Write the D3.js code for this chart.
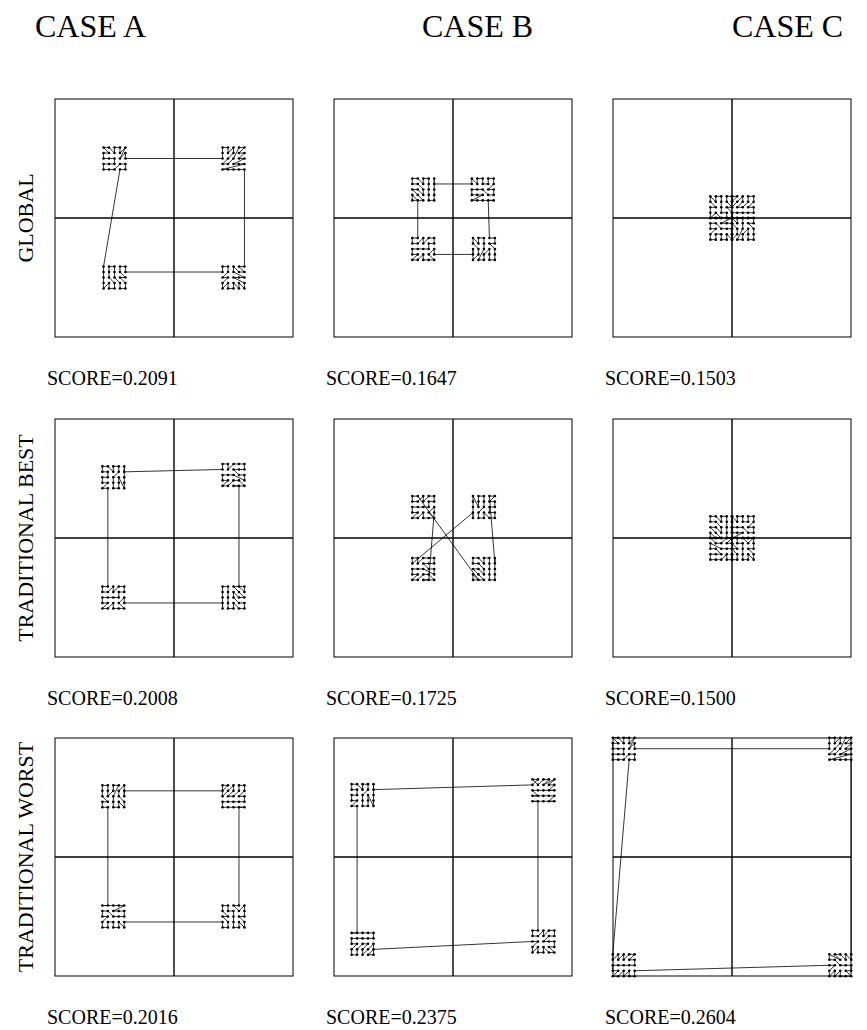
<!DOCTYPE html>
<html>
<head>
<meta charset="utf-8">
<script src="https://cdn.jsdelivr.net/npm/d3@7"></script>
<style>
  body { margin: 0; background: #fff; }
  text { font-family: "Liberation Serif", "Times New Roman", serif; fill: #000; }
</style>
</head>
<body>
<svg id="chart" width="867" height="1030"></svg>
<script>
const cases = ["CASE A", "CASE B", "CASE C"];
const methods = ["GLOBAL", "TRADITIONAL BEST", "TRADITIONAL WORST"];
const scores = [
  [0.2091, 0.1647, 0.1503],
  [0.2008, 0.1725, 0.1500],
  [0.2016, 0.2375, 0.2604]
];

// cluster centres in tour order: [x, y, pattern, quarter turns]
const globalA = [[-0.5, 0.5, 4, 0], [0.5, 0.5, 5, 0], [0.5, -0.5, 10, 0], [-0.5, -0.5, 11, 0]];
const globalB = [[-0.25, 0.24, 3, 0], [0.25, 0.24, 2, 1], [0.26, -0.26, 0, 2], [-0.25, -0.26, 1, 3]];
const globalC = [[-0.09, 0.09, 1, 0], [0.09, 0.09, 3, 1], [0.09, -0.09, 0, 2], [-0.09, -0.09, 2, 3]];
const bestA = [[-0.51, 0.51, 2, 0], [0.5, 0.53, 0, 1], [0.5, -0.5, 3, 2], [-0.51, -0.5, 1, 3]];
const bestB = [[-0.25, 0.26, 1, 3], [0.26, -0.26, 3, 0], [0.26, 0.26, 2, 2], [-0.25, -0.26, 0, 1]];
const bestC = [[-0.09, 0.09, 3, 0], [0.09, 0.09, 2, 1], [0.09, -0.09, 1, 2], [-0.09, -0.09, 0, 3]];
const worstA = [[-0.51, 0.51, 0, 0], [0.5, 0.51, 3, 1], [0.5, -0.5, 1, 2], [-0.51, -0.5, 2, 3]];
const worstB = [[-0.76, 0.52, 2, 0], [0.76, 0.56, 8, 0], [0.76, -0.71, 9, 0], [-0.76, -0.73, 3, 3]];
const worstC = [[-0.91, 0.91, 4, 0], [0.91, 0.91, 5, 0], [0.91, -0.91, 6, 0], [-0.91, -0.91, 7, 0]];

const tours = [
  [globalA, globalB, globalC],
  [bestA, bestB, bestC],
  [worstA, worstB, worstC]
];

// visiting order inside a 5x5 cluster, cells "col row" (row 0 at top)
const patterns = [
  "14 04 03 13 02 01 00 10 11 12 21 20 30 22 23 24 34 33 44 43 32 31 40 42 41",
  "14 24 13 04 03 02 12 01 00 11 10 20 21 22 23 33 34 44 43 32 42 31 30 40 41",
  "14 04 13 03 02 12 11 01 00 10 21 20 30 31 22 23 24 34 33 32 44 43 42 40 41",
  "14 03 04 24 13 02 12 23 22 11 01 00 10 21 20 30 31 32 33 34 44 43 42 40 41",
  "34 44 43 33 24 14 04 03 13 23 22 12 02 01 11 00 10 21 20 30 31 40 32 41 42",
  "02 01 00 10 11 20 21 12 03 13 22 30 40 31 41 32 42 23 33 43 04 14 24 34 44",
  "40 41 30 31 20 10 21 00 01 11 22 32 42 43 33 44 34 24 23 14 13 04 03 12 02",
  "43 44 34 33 24 23 14 04 13 03 02 12 22 32 42 41 31 40 30 21 20 11 10 01 00",
  "01 10 00 11 20 30 21 40 31 41 32 42 22 12 02 13 03 23 33 43 34 44 24 04 14",
  "10 00 01 11 20 21 30 40 41 31 22 32 42 43 33 44 34 23 24 14 13 04 03 12 02",
  "40 30 41 31 20 21 42 32 22 43 44 33 34 23 24 14 13 04 03 12 02 11 10 00 01",
  "41 40 30 31 42 32 43 44 34 33 22 21 20 10 11 12 23 24 14 13 04 03 02 01 00"
];
const gridStep = 0.046;

const panelSize = 238;
const panelX = [55, 334, 613];
const panelY = [99, 419, 738];
const titleX = [35, 422, 732];

const svg = d3.select("#chart");

const x = d3.scaleLinear().domain([-1, 1]).range([0, panelSize]);
const y = d3.scaleLinear().domain([-1, 1]).range([panelSize, 0]);

function turn(c, k) {
  var i = c[0], j = c[1];
  for (var n = 0; n < k; n++) {
    var t = i;
    i = 4 - j;
    j = t;
  }
  return [i, j];
}

function tourPoints(tour) {
  var pts = [];
  tour.forEach(function(cl) {
    patterns[cl[2]].split(" ").forEach(function(s) {
      var c = turn([+s[0], +s[1]], cl[3]);
      pts.push([cl[0] + (c[0] - 2) * gridStep, cl[1] - (c[1] - 2) * gridStep]);
    });
  });
  return pts;
}

// column titles
svg.selectAll(".caseTitle")
  .data(cases)
  .enter()
  .append("text")
  .attr("class", "caseTitle")
  .attr("x", function(d, i) { return titleX[i]; })
  .attr("y", 37)
  .style("font-size", "32px")
  .text(function(d) { return d; });

// row labels
svg.selectAll(".rowLabel")
  .data(methods)
  .enter()
  .append("text")
  .attr("class", "rowLabel")
  .attr("text-anchor", "middle")
  .attr("transform", function(d, i) {
    return "translate(33," + (panelY[i] + panelSize / 2) + ") rotate(-90)";
  })
  .style("font-size", "22px")
  .text(function(d) { return d; });

var line = d3.line()
  .x(function(d) { return x(d[0]); })
  .y(function(d) { return y(d[1]); })
  .curve(d3.curveLinearClosed);

for (var r = 0; r < 3; r++) {
  for (var c = 0; c < 3; c++) {
    var g = svg.append("g")
      .attr("transform", "translate(" + panelX[c] + "," + panelY[r] + ")");

    g.append("rect")
      .attr("width", panelSize)
      .attr("height", panelSize)
      .attr("fill", "none")
      .attr("stroke", "#000")
      .attr("stroke-width", 1);

    g.append("line")
      .attr("x1", x(-1)).attr("x2", x(1))
      .attr("y1", y(0)).attr("y2", y(0))
      .attr("stroke", "#000").attr("stroke-width", 1.4);
    g.append("line")
      .attr("x1", x(0)).attr("x2", x(0))
      .attr("y1", y(-1)).attr("y2", y(1))
      .attr("stroke", "#000").attr("stroke-width", 1.4);

    var pts = tourPoints(tours[r][c]);

    g.append("path")
      .attr("d", line(pts))
      .attr("fill", "none")
      .attr("stroke", "#000")
      .attr("stroke-width", 0.8);

    g.selectAll(".dot")
      .data(pts)
      .enter()
      .append("circle")
      .attr("class", "dot")
      .attr("cx", function(d) { return x(d[0]); })
      .attr("cy", function(d) { return y(d[1]); })
      .attr("r", 1.3)
      .attr("fill", "#000");

    svg.append("text")
      .attr("x", panelX[c] - 8)
      .attr("y", panelY[r] + panelSize + 48)
      .style("font-size", "20px")
      .text("SCORE=" + d3.format(".4f")(scores[r][c]));
  }
}
</script>
</body>
</html>
